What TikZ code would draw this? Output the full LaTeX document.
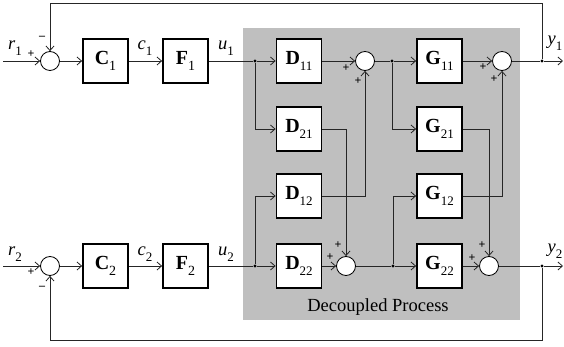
\documentclass[tikz,border=0pt]{standalone}
\usepackage{fontspec}
\setmainfont{Liberation Serif}
\usetikzlibrary{arrows.meta,calc}
\newcommand{\itl}[2]{\textit{#1}\raisebox{-0.3em}{\fontsize{13}{14}\selectfont #2}}
\newcommand{\bxl}[2]{\textbf{#1}\raisebox{-0.3em}{\fontsize{14}{14}\selectfont #2}}
\newcommand{\bxs}[2]{\textbf{#1}\raisebox{-0.3em}{\fontsize{13}{14}\selectfont #2}}
\tikzset{
  blk/.style={draw=black, line width=1.8pt, fill=white, minimum width=45pt, minimum height=44pt, inner sep=0pt, font=\fontsize{20}{22}\selectfont},
  sumj/.style={circle, draw=black, line width=0.8pt, fill=white, minimum size=19pt, inner sep=0pt},
  jdot/.style={circle, fill=black, minimum size=3.2pt, inner sep=0pt},
  sig/.style={font=\fontsize{18.5}{20}\selectfont, inner sep=0pt},
  sgn/.style={font=\bfseries\fontsize{12}{12}\selectfont, inner sep=0pt},
  wire/.style={line width=0.9pt, draw=black!85},
  arr/.style={wire, -{Straight Barb[length=4.5pt,width=8pt,line width=0.8pt]}},
}
\begin{document}
\begin{tikzpicture}[x=1pt,y=-1pt]
\useasboundingbox (0,0) rectangle (564,347);
\fill[black!25] (243,28) rectangle (520,320);
\node[font=\fontsize{18.5}{20}\selectfont] (dp) at (378,307) {Decoupled Process};

% left sums
\node[sumj] (sl1) at (50,61) {};
\node[sumj] (sl2) at (50,266) {};
\coordinate (in1) at (3,61);
\coordinate (in2) at (3,266);
% controllers
\node[blk] (C1) at (105.5,61) {\bxl{C}{1}};
\node[blk] (F1) at (185.5,61) {\bxl{F}{1}};
\node[blk] (C2) at (105.5,266) {\bxl{C}{2}};
\node[blk] (F2) at (185.5,266) {\bxl{F}{2}};
% junction dots
\node[jdot] (a1) at (255,61) {};
\node[jdot] (a2) at (255,266) {};
% D blocks
\node[blk] (D11) at (299,61) {\bxs{D}{11}};
\node[blk] (D21) at (299,129) {\bxs{D}{21}};
\node[blk] (D12) at (299,196) {\bxs{D}{12}};
\node[blk] (D22) at (299,266) {\bxs{D}{22}};
% middle sums
\node[sumj] (s1) at (365,61) {};
\node[sumj] (s2) at (346,266) {};
\node[jdot] (b1) at (392,61) {};
\node[jdot] (b2) at (393,266) {};
% G blocks
\node[blk] (G11) at (439.5,61) {\bxs{G}{11}};
\node[blk] (G21) at (439.5,129) {\bxs{G}{21}};
\node[blk] (G12) at (439.5,196) {\bxs{G}{12}};
\node[blk] (G22) at (439.5,266) {\bxs{G}{22}};
% output sums
\node[sumj] (t1) at (502,61) {};
\node[sumj] (t2) at (489,266) {};
\node[jdot] (o1) at (542,61) {};
\node[jdot] (o2) at (542,266) {};
\coordinate (out1) at (563,61);
\coordinate (out2) at (563,266);
\coordinate (ft) at (542,3);
\coordinate (fb) at (542,340);

% wires
\draw[arr] (in1) -- (sl1);
\draw[arr] (in2) -- (sl2);
\draw[arr] (sl1) -- (C1);
\draw[arr] (sl2) -- (C2);
\draw[arr] (C1) -- (F1);
\draw[arr] (C2) -- (F2);
\draw[wire] (F1) -- (a1);
\draw[wire] (F2) -- (a2);
\draw[arr] (a1) -- (D11);
\draw[arr] (a2) -- (D22);
\draw[arr] (a1) |- (D21.west);
\draw[arr] (a2) |- (D12.west);
\draw[arr] (D11) -- (s1);
\draw[arr] (D22) -- (s2);
\draw[arr] (D21.east) -| (s2.north);
\draw[arr] (D12.east) -| (s1.south);
\draw[wire] (s1) -- (b1);
\draw[wire] (s2) -- (b2);
\draw[arr] (b1) -- (G11);
\draw[arr] (b2) -- (G22);
\draw[arr] (b1) |- (G21.west);
\draw[arr] (b2) |- (G12.west);
\draw[arr] (G11) -- (t1);
\draw[arr] (G22) -- (t2);
\draw[arr] (G21.east) -| (t2.north);
\draw[arr] (G12.east) -| (t1.south);
\draw[wire] (t1) -- (o1);
\draw[wire] (t2) -- (o2);
\draw[arr] (o1) -- (out1);
\draw[arr] (o2) -- (out2);
\draw[arr] (o1) -- (ft) -| (sl1.north);
\draw[arr] (o2) -- (fb) -| (sl2.south);

% signal labels
\node[sig] (r1) at (15,48) {\itl{r}{1}};
\node[sig] (c1) at (145,48) {\itl{c}{1}};
\node[sig] (u1) at (226,48) {\itl{u}{1}};
\node[sig] (y1) at (555,43) {\itl{y}{1}};
\node[sig] (r2) at (15,254) {\itl{r}{2}};
\node[sig] (c2) at (145,254) {\itl{c}{2}};
\node[sig] (u2) at (226,254) {\itl{u}{2}};
\node[sig] (y2) at (555,251) {\itl{y}{2}};

% signs
\node[sgn] (p1) at (31,54) {+};
\node[sgn] (m1) at (42,38) {–};
\node[sgn] (p2) at (31,272) {+};
\node[sgn] (m2) at (42,288) {–};
\node[sgn] (ps1a) at (346,68) {+};
\node[sgn] (ps1b) at (358,81) {+};
\node[sgn] (ps2a) at (338,245) {+};
\node[sgn] (ps2b) at (330,257) {+};
\node[sgn] (pt1a) at (483,67) {+};
\node[sgn] (pt1b) at (494,79) {+};
\node[sgn] (pt2a) at (482,245) {+};
\node[sgn] (pt2b) at (472,258) {+};
\end{tikzpicture}
\end{document}
